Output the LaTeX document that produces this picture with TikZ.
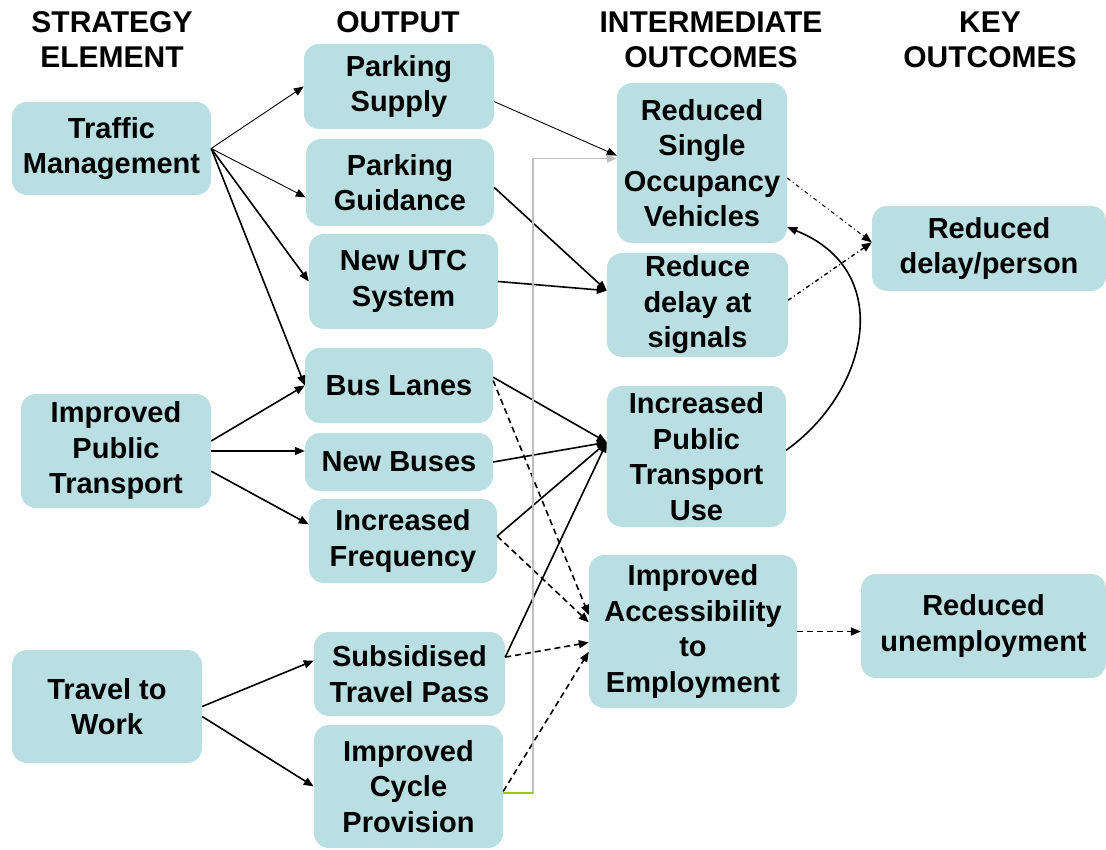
\documentclass[tikz,border=0pt]{standalone}
\usepackage{fontspec}
\setmainfont{Liberation Sans}
\usepackage{xcolor}
\usetikzlibrary{arrows.meta}
\definecolor{boxblue}{RGB}{186,223,227}
\definecolor{linkgray}{RGB}{190,190,190}
\definecolor{linkgreen}{RGB}{153,204,0}

\begin{document}
\begin{tikzpicture}[x=1pt, y=-1pt,
    box/.style={fill=boxblue, rounded corners=15pt, align=center, inner sep=0pt,
      font=\fontsize{29}{35.5}\selectfont\bfseries},
    head/.style={align=center, font=\fontsize{30}{35}\selectfont\bfseries},
    link/.style={-{Triangle[length=10pt,width=8pt]}, line width=1.6pt},
    thinlink/.style={link, line width=0.9pt},
    dashlink/.style={link, dash pattern=on 6pt off 4pt},
    dotlink/.style={link, line width=1pt, dash pattern=on 4pt off 3pt on 1pt off 3pt}]
  \useasboundingbox (0,0) rectangle (1106,850);

  \node (hstrat) [head] at (112,40) {STRATEGY\\ELEMENT};
  \node (hout) [head] at (398,22) {OUTPUT};
  \node (hinter) [head] at (711,40) {INTERMEDIATE\\OUTCOMES};
  \node (hkey) [head] at (990,40) {KEY\\OUTCOMES};

  \node (tm) [box, minimum width=199pt, minimum height=93pt] at (111.5,148.5) {Traffic\\Management};
  \node (ipt) [box, minimum width=190pt, minimum height=114pt] at (116,451) {Improved\\Public\\Transport};
  \node (ttw) [box, minimum width=190pt, minimum height=113pt] at (107,706.5) {Travel to\\Work};

  \node (ps) [box, minimum width=190pt, minimum height=85pt] at (399,86.5) {Parking\\Supply};
  \node (pg) [box, minimum width=188pt, minimum height=87pt] at (400,182.5) {Parking\\Guidance};
  \node (utc) [box, minimum width=189pt, minimum height=95pt] at (403.5,281.5) {New UTC\\System};
  \node (bl) [box, minimum width=188pt, minimum height=75pt] at (399,385.5) {Bus Lanes};
  \node (nb) [box, minimum width=188pt, minimum height=58pt] at (399,462) {New Buses};
  \node (inf) [box, minimum width=188pt, minimum height=84pt] at (403,541) {Increased\\Frequency};
  \node (stp) [box, minimum width=191pt, minimum height=84pt] at (409.5,674) {Subsidised\\Travel Pass};
  \node (icp) [box, minimum width=189pt, minimum height=123pt] at (408.5,786.5) {Improved\\Cycle\\Provision};

  \node (sov) [box, minimum width=170pt, minimum height=160pt] at (702,163) {Reduced\\Single\\Occupancy\\Vehicles};
  \node (rds) [box, minimum width=181pt, minimum height=104pt] at (697.5,305) {Reduce\\delay at\\signals};
  \node (ptu) [box, minimum width=179pt, minimum height=141pt] at (696.5,456.5) {Increased\\Public\\Transport\\Use};
  \node (iae) [box, minimum width=208pt, minimum height=153pt] at (693,631.5) {Improved\\Accessibility\\to\\Employment};

  \node (rdp) [box, minimum width=234pt, minimum height=85pt] at (989,248.5) {Reduced\\delay/person};
  \node (ru) [box, minimum width=245pt, minimum height=104pt] at (983.5,626) {Reduced\\unemployment};

  \coordinate (bend) at (533,0);

  \draw[thinlink] (tm.east) -- (ps.west);
  \draw[thinlink] (tm.east) -- (pg.189);
  \draw[link] (tm.east) -- (utc.west);
  \draw[link] (tm.east) -- (bl.west);

  \draw[link] (ipt.6) -- (bl.west);
  \draw[link] (ipt.east) -- (ipt.east -| nb.west);
  \draw[link] (ipt.-12) -- (inf.170);

  \draw[link] (ttw.east) -- (stp.172);
  \draw[link] (ttw.-6) -- (icp.west);

  \draw[thinlink] (ps.-9) -- (sov.175);
  \draw[link] (pg.-3) -- (rds.171);
  \draw[link] (utc.east) -- (rds.171);
  \draw[link] (bl.5) -- (ptu.171);
  \draw[link] (nb.east) -- (ptu.171);
  \draw[link] (inf.3) -- (ptu.171);
  \draw[link] (stp.10) -- (ptu.171);

  \draw[dashlink] (bl.3) -- (iae.171);
  \draw[dashlink] (inf.3) -- (iae.175);
  \draw[dashlink] (stp.10) -- (iae.186);
  \draw[dashlink] (icp.-3) -- (iae.191);

  \draw[link, linkgray, line width=1.5pt]
    (icp.-4) -- (icp.-4 -| bend) |- (sov.177)
  ;
  \draw[linkgreen, line width=1.5pt] (icp.-4) -- (icp.-4 -| bend);

  \draw[dotlink] (sov.-10) -- (rdp.177);
  \draw[dotlink, line width=1.4pt] (rds.3) -- (rdp.177);
  \draw[link] (ptu.4) .. controls (870,390) and (895,270) .. (sov.-37);

  \draw[dashlink] (iae.east) -- (iae.east -| ru.west);
\end{tikzpicture}
\end{document}
